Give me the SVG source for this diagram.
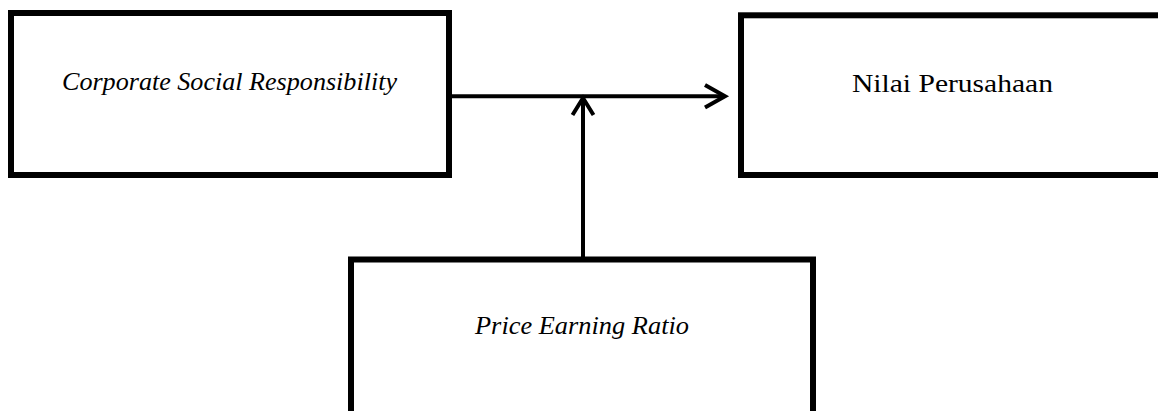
<svg xmlns="http://www.w3.org/2000/svg" width="1158" height="411" viewBox="0 0 1158 411">
  <style>
    .box { fill: #ffffff; stroke: #000000; stroke-width: 6; }
    .lbl { font-family: "Liberation Serif", "DejaVu Serif", serif; font-size: 26px; fill: #000000; }
    .it { font-style: italic; }
    .edge { fill: none; stroke: #000000; stroke-width: 4; }
    .head { fill: none; stroke: #000000; stroke-width: 4; stroke-linecap: butt; stroke-linejoin: miter; }
  </style>
  <rect x="0" y="0" width="1158" height="411" fill="#ffffff"/>
  <g id="node-csr">
    <rect class="box" x="11" y="13" width="438" height="162"/>
    <text class="lbl it" x="62" y="90" textLength="335" lengthAdjust="spacingAndGlyphs">Corporate Social Responsibility</text>
  </g>
  <g id="node-nilai">
    <rect class="box" x="741" y="15.3" width="450" height="159.7"/>
    <text class="lbl" x="852" y="92" textLength="201" lengthAdjust="spacingAndGlyphs">Nilai Perusahaan</text>
  </g>
  <g id="node-per">
    <rect class="box" x="351" y="259.5" width="462" height="200"/>
    <text class="lbl it" x="475" y="334" textLength="214" lengthAdjust="spacingAndGlyphs">Price Earning Ratio</text>
  </g>
  <g id="connectors">
    <line class="edge" x1="452" y1="96.3" x2="724" y2="96.3"/>
    <polyline class="head" points="705,85 725,96.3 705,107.5"/>
    <line class="edge" x1="583" y1="257" x2="583" y2="99"/>
    <polyline class="head" points="572.5,115 583,98 593.5,115"/>
  </g>
</svg>
